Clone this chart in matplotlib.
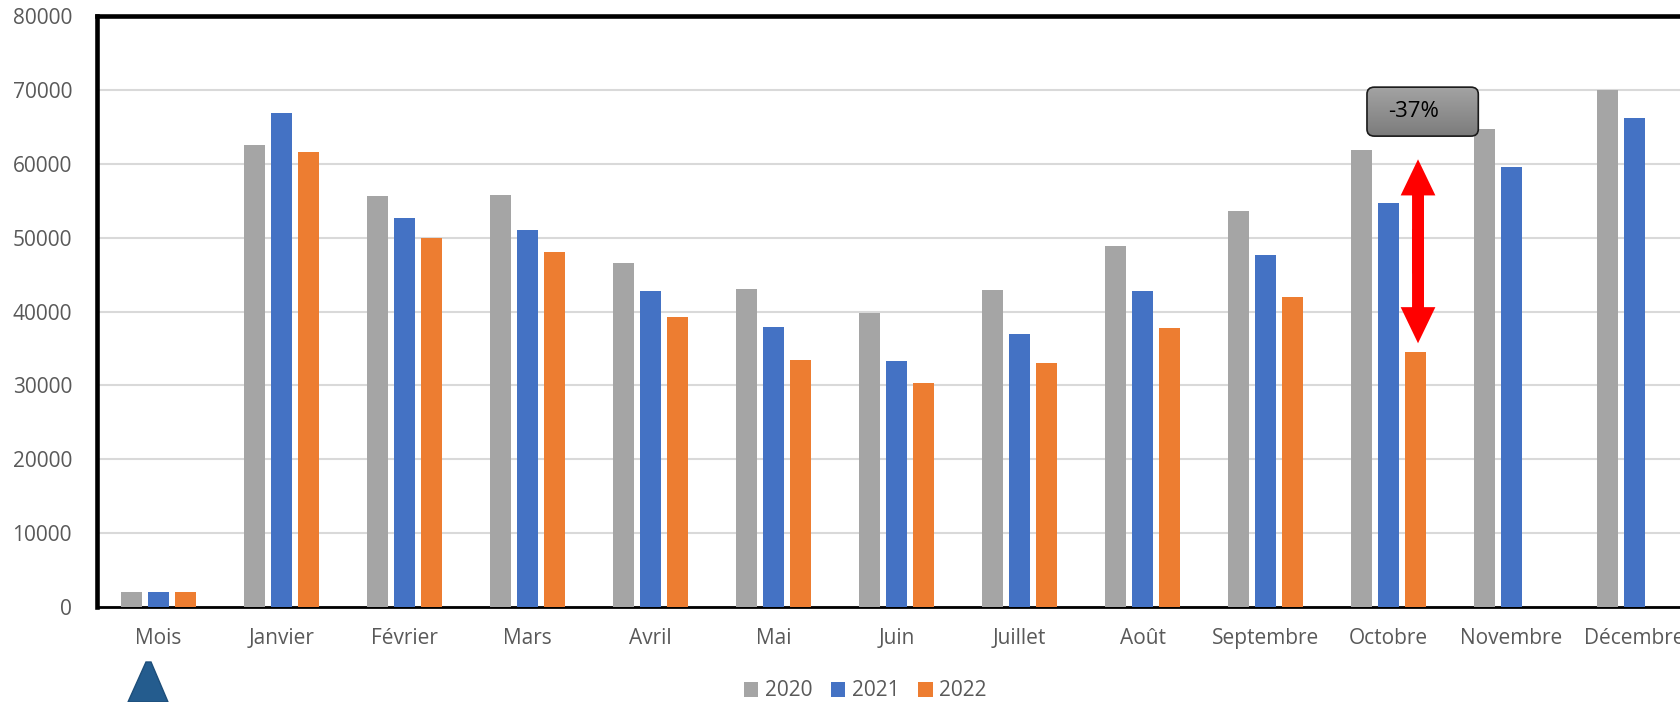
import numpy as np
import matplotlib
matplotlib.use('Agg')
import matplotlib.pyplot as plt
from matplotlib.colors import LinearSegmentedColormap
from matplotlib.patches import FancyBboxPatch, FancyArrowPatch, Polygon

plt.rcParams['font.family'] = ['Open Sans', 'DejaVu Sans']

months = ['Mois', 'Janvier', 'Février', 'Mars', 'Avril', 'Mai', 'Juin',
          'Juillet', 'Août', 'Septembre', 'Octobre', 'Novembre', 'Décembre']
y2020 = [2000, 62600, 55600, 55800, 46600, 43100, 39800, 42900, 48800, 53600, 61900, 64700, 70000]
y2021 = [2000, 66900, 52700, 51000, 42800, 37900, 33300, 36900, 42800, 47600, 54700, 59500, 66200]
y2022 = [2000, 61600, 50000, 48000, 39200, 33400, 30300, 33000, 37700, 42000, 34500, np.nan, np.nan]
years = ['2020', '2021', '2022']
colors = ['#a5a5a5', '#4472c4', '#ed7d31']

fig = plt.figure(figsize=(16.8, 7.02), dpi=100)
ax = fig.add_axes([97 / 1680, 95 / 702, 1599 / 1680, 591 / 702])

x = np.arange(len(months))
w = 0.171
step = 0.22
for i, (vals, c, lab) in enumerate(zip([y2020, y2021, y2022], colors, years)):
    ax.bar(x + (i - 1) * step, vals, width=w, color=c, label=lab, zorder=3)

ax.set_yticks(np.arange(0, 80001, 10000))
ax.set_xticks(x)
ax.set_xticklabels(months)
ax.grid(axis='y', color='#d9d9d9', lw=1.5, zorder=0)
ax.tick_params(axis='both', length=0, labelsize=15, labelcolor='#595959')
ax.tick_params(axis='y', pad=18)
ax.tick_params(axis='x', pad=15)

for s in ['left', 'top']:
    ax.spines[s].set_linewidth(3.3)
    ax.spines[s].set_color('black')
ax.spines['bottom'].set_linewidth(2)
ax.spines['bottom'].set_color('black')
ax.spines['right'].set_visible(False)

# -37% annotation for October (2022 vs 2021)
oct_i = months.index('Octobre')
pct = (y2022[oct_i] - y2021[oct_i]) / y2021[oct_i] * 100
arr_x = oct_i + 0.24
top, bottom = 60600, 35700
mid = (top + bottom) / 2
for start, end in ((mid - 3000, top), (mid + 3000, bottom)):
    ax.add_patch(FancyArrowPatch((arr_x, start), (arr_x, end),
                                 arrowstyle='simple,head_length=26,head_width=25,tail_width=8.6',
                                 mutation_scale=1, color='red', lw=0,
                                 shrinkA=0, shrinkB=0, zorder=5))

bx0, bx1, by0, by1 = oct_i - 0.175, oct_i + 0.73, 63740, 70370
box = FancyBboxPatch((bx0, by0), bx1 - bx0, by1 - by0,
                     boxstyle='round,pad=0,rounding_size=0.06', mutation_aspect=15800,
                     facecolor='none', edgecolor='#1a1a1a', lw=1.2, zorder=7)
ax.add_patch(box)
grad = np.linspace(0, 1, 100).reshape(-1, 1)
img = ax.imshow(grad, extent=(bx0, bx1, by0, by1),
                cmap=LinearSegmentedColormap.from_list('g', ['#a3a3a3', '#7c7c7c']),
                aspect='auto', origin='upper', zorder=6)
img.set_clip_path(box)
ax.text(oct_i + 0.2, (by0 + by1) / 2, f'{pct:.0f}%', ha='center', va='center',
        fontsize=16, color='black', zorder=8)

ax.set_xlim(-0.5, len(months) - 0.5)
ax.set_ylim(0, 80000)

fig.legend(loc='center', bbox_to_anchor=(865 / 1680, 11 / 702), ncol=3, frameon=False,
           fontsize=15, handlelength=0.7, handleheight=0.7, handletextpad=0.3,
           columnspacing=0.9, labelcolor='#595959')

# blue arrow shape at bottom left
fig.patches.append(Polygon([(128 / 1680, 0), (146 / 1680, 40 / 702), (151 / 1680, 40 / 702), (168 / 1680, 0)],
                           closed=True, transform=fig.transFigure, facecolor='#245c8e',
                           edgecolor='#1d4e7a', lw=1))

fig.savefig('out.png', dpi=100)
